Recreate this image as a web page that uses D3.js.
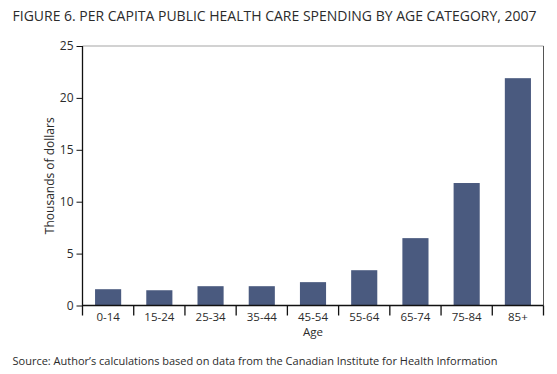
<!DOCTYPE html>
<html>
<head>
<meta charset="utf-8">
<script src="https://cdn.jsdelivr.net/npm/d3@7.9.0/dist/d3.min.js"></script>
<style>
  body { margin: 0; background: #fff; }
  svg { display: block; font-family: "Open Sans", sans-serif; }
</style>
</head>
<body>
<svg id="chart" width="557" height="374"></svg>
<script>
// Data (thousands of dollars)
const ageGroups = ['0-14', '15-24', '25-34', '35-44', '45-54', '55-64', '65-74', '75-84', '85+'];
const spending = [1.57, 1.47, 1.86, 1.86, 2.25, 3.4, 6.49, 11.8, 21.9];
const yTicks = [0, 5, 10, 15, 20, 25];

const title = 'FIGURE 6. PER CAPITA PUBLIC HEALTH CARE SPENDING BY AGE CATEGORY, 2007';
const source = 'Source: Author\u2019s calculations based on data from the Canadian Institute for Health Information';

const svg = d3.select('#chart');
const plotLeft = 82.5, plotRight = 543.5, plotTop = 46, plotBottom = 305.5;
const ink = '#2b2b2b';

const x = d3.scaleBand().domain(ageGroups).range([plotLeft, plotRight]).paddingInner(0.49).paddingOuter(0.245);
const y = d3.scaleLinear().domain([0, 25]).range([plotBottom, plotTop]);

// Title
svg.append('text')
  .attr('x', 12.5).attr('y', 21)
  .attr('fill', ink).attr('font-size', 14.5)
  .attr('textLength', 524).attr('lengthAdjust', 'spacingAndGlyphs')
  .text(title);

// Frame: grey top, dark right
svg.append('line').attr('x1', plotLeft).attr('x2', plotRight).attr('y1', plotTop).attr('y2', plotTop)
  .attr('stroke', '#a6a6a6').attr('stroke-width', 1.2);
svg.append('line').attr('x1', plotRight).attr('x2', plotRight).attr('y1', plotTop).attr('y2', plotBottom)
  .attr('stroke', '#555').attr('stroke-width', 1);

// Bars
svg.append('g')
  .selectAll('rect')
  .data(ageGroups)
  .join('rect')
  .attr('x', d => x(d))
  .attr('width', x.bandwidth())
  .attr('y', (d, i) => y(spending[i]))
  .attr('height', (d, i) => y(0) - y(spending[i]))
  .attr('fill', '#4a5a7f');

// Y axis
const yAxis = svg.append('g')
  .attr('transform', `translate(${plotLeft},0)`)
  .call(d3.axisLeft(y).tickValues(yTicks).tickSize(6).tickPadding(3));
yAxis.select('.domain').attr('d', `M0,${plotTop}V${plotBottom + 10}`).attr('stroke', '#111').attr('stroke-width', 1.3);
yAxis.selectAll('.tick line').attr('stroke', '#111');
yAxis.selectAll('.tick text').attr('fill', ink).attr('font-size', 12).attr('font-family', '"Open Sans", sans-serif');

// X axis: separators between categories
const xAxis = svg.append('g')
  .attr('transform', `translate(0,${plotBottom})`)
  .call(d3.axisBottom(x).tickSize(0).tickPadding(7.5));
xAxis.select('.domain').attr('d', `M${plotLeft},0H${plotRight}`).attr('stroke', '#111').attr('stroke-width', 1.3);
xAxis.selectAll('.tick text').attr('fill', ink).attr('font-size', 11.5).attr('font-family', '"Open Sans", sans-serif');
const step = x.step();
xAxis.selectAll('line.sep')
  .data(d3.range(1, ageGroups.length + 1))
  .join('line')
  .attr('class', 'sep')
  .attr('x1', i => plotLeft + i * step).attr('x2', i => plotLeft + i * step)
  .attr('y1', 0).attr('y2', 10)
  .attr('stroke', '#111').attr('stroke-width', 1.3);

// Axis titles
svg.append('text')
  .attr('x', (plotLeft + plotRight) / 2).attr('y', 336)
  .attr('text-anchor', 'middle').attr('fill', ink).attr('font-size', 11.5)
  .text('Age');
svg.append('text')
  .attr('transform', `translate(54,${(plotTop + plotBottom) / 2}) rotate(-90)`)
  .attr('text-anchor', 'middle').attr('fill', ink).attr('font-size', 12)
  .text('Thousands of dollars');

// Source
svg.append('text')
  .attr('x', 12.5).attr('y', 365)
  .attr('fill', ink).attr('font-size', 11.5)
  .attr('textLength', 485).attr('lengthAdjust', 'spacingAndGlyphs')
  .text(source);
</script>
</body>
</html>
